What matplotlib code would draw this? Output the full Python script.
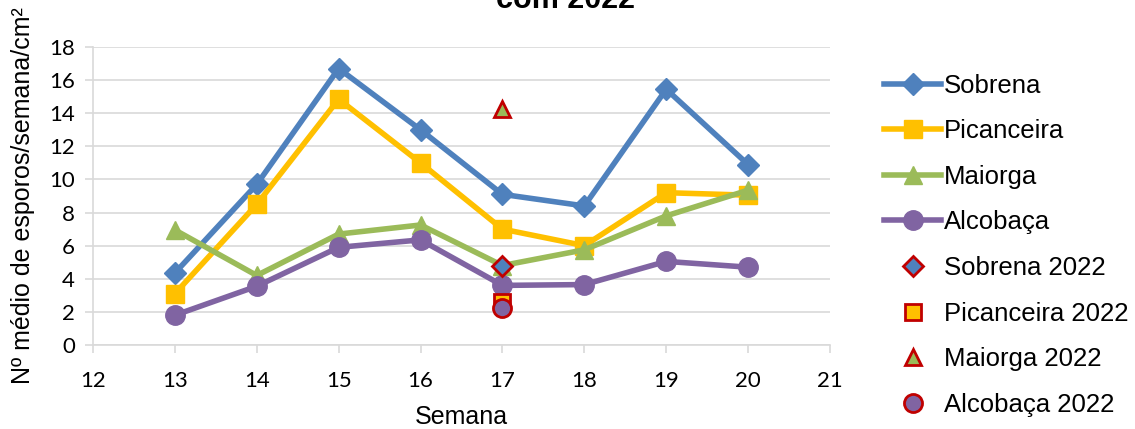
import matplotlib
matplotlib.use("Agg")
import matplotlib.pyplot as plt

semanas = [13, 14, 15, 16, 17, 18, 19, 20]
sobrena = [4.35, 9.7, 16.7, 13.0, 9.1, 8.4, 15.45, 10.9]
picanceira = [3.1, 8.5, 14.85, 11.0, 7.0, 6.0, 9.2, 9.05]
maiorga = [6.95, 4.2, 6.7, 7.25, 4.8, 5.75, 7.8, 9.35]
alcobaca = [1.8, 3.55, 5.9, 6.35, 3.6, 3.65, 5.05, 4.7]

semana_2022 = [17]
sobrena_2022 = [4.8]
picanceira_2022 = [2.6]
maiorga_2022 = [14.25]
alcobaca_2022 = [2.25]

cores = {"Sobrena": "#4F81BD", "Picanceira": "#FFC000",
         "Maiorga": "#9BBB59", "Alcobaça": "#8064A2"}
marcadores = {"Sobrena": "D", "Picanceira": "s", "Maiorga": "^", "Alcobaça": "o"}
tamanhos = {"Sobrena": 11, "Picanceira": 13, "Maiorga": 13, "Alcobaça": 14}

fig = plt.figure(figsize=(11.35, 4.29), dpi=100)
ax = fig.add_axes([93/1135, 1 - 345/429, (830 - 93)/1135, (345 - 47)/429])

series = [("Sobrena", sobrena), ("Picanceira", picanceira),
          ("Maiorga", maiorga), ("Alcobaça", alcobaca)]
for nome, vals in series:
    ax.plot(semanas, vals, color=cores[nome], lw=4, marker=marcadores[nome],
            ms=tamanhos[nome], label=nome, zorder=3)

pontos = [("Sobrena", sobrena_2022), ("Picanceira", picanceira_2022),
          ("Maiorga", maiorga_2022), ("Alcobaça", alcobaca_2022)]
for nome, vals in pontos:
    ax.plot(semana_2022, vals, ls="none", marker=marcadores[nome],
            ms=tamanhos[nome] - 1, mfc=cores[nome], mec="#C00000", mew=2,
            label=nome + " 2022", zorder=4)

ax.set_xlim(12, 21)
ax.set_ylim(0, 18)
ax.set_xticks(range(12, 22))
ax.set_yticks(range(0, 19, 2))
ax.yaxis.grid(True, color="#D9D9D9", lw=1.2)
ax.set_axisbelow(True)
for s in ["top", "right"]:
    ax.spines[s].set_visible(False)
for s in ["left", "bottom"]:
    ax.spines[s].set_color("#D9D9D9")
    ax.spines[s].set_linewidth(1.2)
ax.tick_params(colors="#D9D9D9", length=6, width=1.2, labelcolor="black",
               labelsize=16, pad=7)
ax.tick_params(axis="x", pad=13)
for lbl in ax.get_xticklabels() + ax.get_yticklabels():
    lbl.set_family("Lato")

ax.set_xlabel("Semana", fontsize=18, family="Liberation Sans", labelpad=10)
ax.set_ylabel("Nº médio de esporos/semana/cm²", fontsize=18,
              family="Liberation Sans", labelpad=10)

fig.text(566/1135, 1 - 8/429, "com 2022", ha="center", va="baseline",
         fontsize=22, fontweight="bold", family="Liberation Sans")

leg = ax.legend(loc="upper left", bbox_to_anchor=(1.06, 0.945), frameon=False,
                prop={"family": "Liberation Sans", "size": 18.5},
                handlelength=2.2, handletextpad=0.1, labelspacing=0.84,
                borderaxespad=0)

fig.savefig("out.png", dpi=100)
